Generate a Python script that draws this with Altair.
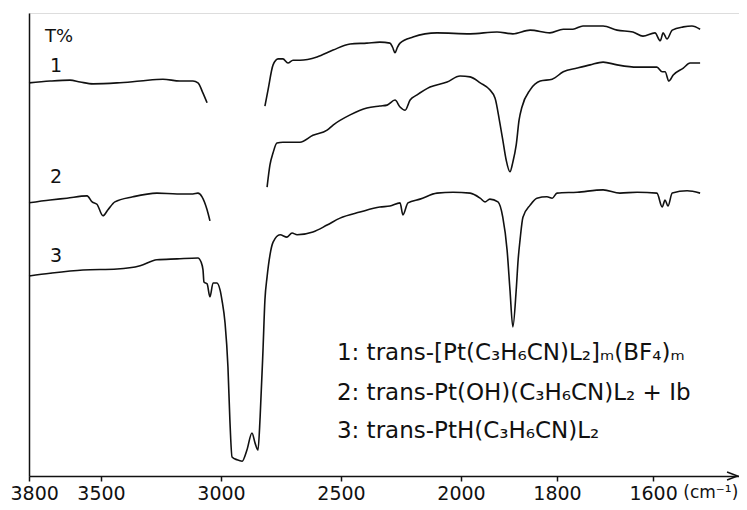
import altair as alt
import pandas as pd

# ---- spectrum 1 (two pieces) ----
s1a_wn = [3800, 3712, 3629, 3587, 3533, 3433, 3337, 3242, 3171, 3117, 3096, 3075, 3058]
s1a_t = [84.9, 85.3, 85.5, 85.1, 84.7, 84.9, 85.3, 85.7, 85.3, 85.3, 84.9, 82.7, 80.6]
s1b_wn = [2817, 2804, 2783, 2762, 2742, 2721, 2700, 2671, 2600, 2533, 2462, 2392, 2338,
          2296, 2285, 2275, 2265, 2254, 2200, 2100, 1981, 1925, 1892, 1856, 1815, 1787,
          1767, 1746, 1704, 1675, 1642, 1621, 1596, 1585, 1579, 1571, 1560, 1537, 1519, 1502]
s1b_t = [79.9, 83.4, 88.8, 90.1, 90.1, 89.2, 89.8, 89.8, 90.5, 92.0, 93.3, 93.5, 93.7,
         93.5, 92.6, 91.4, 92.6, 93.5, 94.8, 95.7, 95.5, 95.9, 95.5, 96.3, 95.7, 96.5,
         96.5, 97.2, 97.2, 96.3, 95.9, 95.0, 95.7, 94.0, 95.7, 94.4, 96.3, 97.0, 97.2, 96.5]

# ---- spectrum 2 (two pieces) ----
s2a_wn = [3800, 3712, 3642, 3558, 3537, 3517, 3492, 3471, 3442, 3367, 3267, 3183, 3117,
          3096, 3079, 3058, 3046]
s2a_t = [59.0, 59.6, 60.0, 60.5, 59.2, 58.7, 56.2, 57.5, 59.2, 60.3, 61.1, 60.9, 60.9,
         61.1, 60.3, 57.5, 55.1]
s2b_wn = [2808, 2796, 2783, 2767, 2742, 2671, 2617, 2558, 2533, 2462, 2392, 2338, 2308,
          2275, 2254, 2233, 2212, 2183, 2129, 2058, 2004, 1981, 1960, 1940, 1929, 1919,
          1913, 1906, 1898, 1892, 1885, 1879, 1873, 1856, 1835, 1810, 1787, 1758, 1731,
          1704, 1675, 1633, 1592, 1581, 1575, 1567, 1558, 1537, 1523, 1502]
s2b_t = [62.4, 67.2, 69.8, 71.9, 72.1, 72.1, 73.6, 74.7, 75.8, 78.0, 79.5, 79.9, 80.1,
         81.2, 79.7, 79.0, 81.2, 82.3, 84.0, 85.1, 86.4, 86.2, 84.9, 83.4, 81.6, 76.2,
         72.6, 68.3, 65.7, 67.8, 71.5, 76.9, 79.7, 83.4, 85.3, 85.7, 87.3, 88.1, 88.8,
         89.4, 88.8, 88.3, 88.3, 87.3, 87.3, 85.3, 86.6, 88.1, 89.2, 89.2]

# ---- spectrum 3 ----
s3_wn = [3800, 3712, 3575, 3433, 3337, 3267, 3183, 3096, 3083, 3075, 3071, 3058, 3046,
         3033, 3017, 3004, 2996, 2983, 2971, 2963, 2954, 2933, 2912, 2892, 2871, 2858,
         2846, 2837, 2825, 2817, 2808, 2796, 2783, 2754, 2725, 2704, 2683, 2617, 2558,
         2504, 2421, 2338, 2296, 2254, 2242, 2221, 2171, 2100, 2033, 1981, 1960, 1950,
         1940, 1923, 1913, 1904, 1898, 1892, 1885, 1881, 1877, 1871, 1856, 1842, 1821,
         1810, 1800, 1758, 1704, 1669, 1633, 1592, 1581, 1575, 1569, 1560, 1529, 1502]
s3_t = [43.2, 43.8, 44.5, 44.7, 45.4, 46.7, 46.9, 47.1, 46.2, 44.5, 41.9, 41.5, 38.7,
        41.7, 41.7, 40.2, 38.0, 33.0, 23.5, 12.1, 4.1, 3.5, 3.2, 5.6, 9.3, 7.1,
        5.6, 12.7, 27.2, 38.0, 43.0, 47.7, 50.5, 52.1, 51.6, 52.5, 52.1, 52.7, 54.2,
        55.7, 57.0, 58.1, 58.3, 59.0, 56.4, 59.0, 59.8, 61.1, 61.3, 61.1, 60.0, 59.2,
        59.8, 59.2, 55.9, 48.8, 40.2, 32.2, 40.2, 46.7, 51.0, 55.9, 58.5, 60.0, 60.3,
        60.0, 61.1, 61.3, 61.8, 61.1, 61.3, 61.1, 58.1, 59.6, 58.3, 61.1, 61.6, 61.1]

# ---- axis ticks and text ----
tick_values = [3800, 3500, 3000, 2500, 2000, 1800, 1600]
label_text = ["T%", "1", "2", "3"]
label_wn = [3733, 3712, 3712, 3712]
label_t = [93.7, 87.3, 63.3, 46.2]
label_size = [18, 19, 19, 19]
legend_text = ["1: trans-[Pt(C₃H₆CN)L₂]ₘ(BF₄)ₘ",
               "2: trans-Pt(OH)(C₃H₆CN)L₂ + Ib",
               "3: trans-PtH(C₃H₆CN)L₂"]
legend_wn = [2517, 2517, 2517]
legend_t = [25.1, 16.4, 8.2]
unit_text = "(cm⁻¹)"

rows = []
for seg, wn, t in [("1a", s1a_wn, s1a_t), ("1b", s1b_wn, s1b_t),
                   ("2a", s2a_wn, s2a_t), ("2b", s2b_wn, s2b_t),
                   ("3", s3_wn, s3_t)]:
    for i, (w, v) in enumerate(zip(wn, t)):
        rows.append({"seg": seg, "wn": w, "t": v, "i": i})
df = pd.DataFrame(rows)

df_lab = pd.DataFrame({"txt": label_text, "wn": label_wn, "t": label_t, "fs": label_size})
df_leg = pd.DataFrame({"txt": legend_text, "wn": legend_wn, "t": legend_t})
df_unit = pd.DataFrame({"txt": [unit_text], "wn": [1537], "t": [-1.9]})
df_arrow = pd.DataFrame({"wn": [1435], "t": [0]})

FONT = "DejaVu Sans"
INK = "#111111"

xscale = alt.Scale(domain=[3800, 2000, 1421], range=[0, 432, 710], nice=False, zero=False)
yscale = alt.Scale(domain=[0, 100], nice=False, zero=False)

x_axis = alt.Axis(values=tick_values, title=None, grid=False, tickSize=5, tickWidth=1.5,
                  tickColor=INK, domainColor=INK, domainWidth=1.5, labelFont=FONT,
                  labelFontSize=19, labelColor=INK, labelPadding=3, labelFlush=True,
                  labelFlushOffset=19, labelOverlap=False, format="d")
y_axis = alt.Axis(title=None, labels=False, ticks=False, grid=False, domainColor=INK,
                  domainWidth=1.5)

lines = alt.Chart(df).mark_line(color=INK, strokeWidth=1.6, strokeJoin="round",
                                interpolate="monotone").encode(
    x=alt.X("wn:Q", scale=xscale, axis=x_axis),
    y=alt.Y("t:Q", scale=yscale, axis=y_axis),
    detail="seg:N",
    order="i:Q",
)

labels = alt.Chart(df_lab).mark_text(align="left", baseline="alphabetic", font=FONT,
                                     color=INK).encode(
    x=alt.X("wn:Q", scale=xscale), y=alt.Y("t:Q", scale=yscale),
    text="txt:N", size=alt.Size("fs:Q", scale=None, legend=None))

legend = alt.Chart(df_leg).mark_text(align="left", baseline="alphabetic", font=FONT,
                                     fontSize=23, color=INK).encode(
    x=alt.X("wn:Q", scale=xscale), y=alt.Y("t:Q", scale=yscale), text="txt:N")

unit = alt.Chart(df_unit).mark_text(align="left", baseline="top", font=FONT,
                                    fontSize=17, color=INK).encode(
    x=alt.X("wn:Q", scale=xscale), y=alt.Y("t:Q", scale=yscale), text="txt:N")

arrow = alt.Chart(df_arrow).mark_point(shape="M-1,-0.75L1,0L-1,0.75", size=110,
                                       filled=False, color=INK, strokeWidth=1.5,
                                       opacity=1).encode(
    x=alt.X("wn:Q", scale=xscale), y=alt.Y("t:Q", scale=yscale))

chart = alt.layer(lines, labels, legend, unit, arrow).properties(
    width=710, height=463,
    padding={"left": 21, "top": 5, "right": 0, "bottom": 26},
    autosize=alt.AutoSizeParams(type="none"),
).configure_view(stroke=None).configure(background="white")

chart.save("out.html", embed_options={"renderer": "svg", "actions": False})
